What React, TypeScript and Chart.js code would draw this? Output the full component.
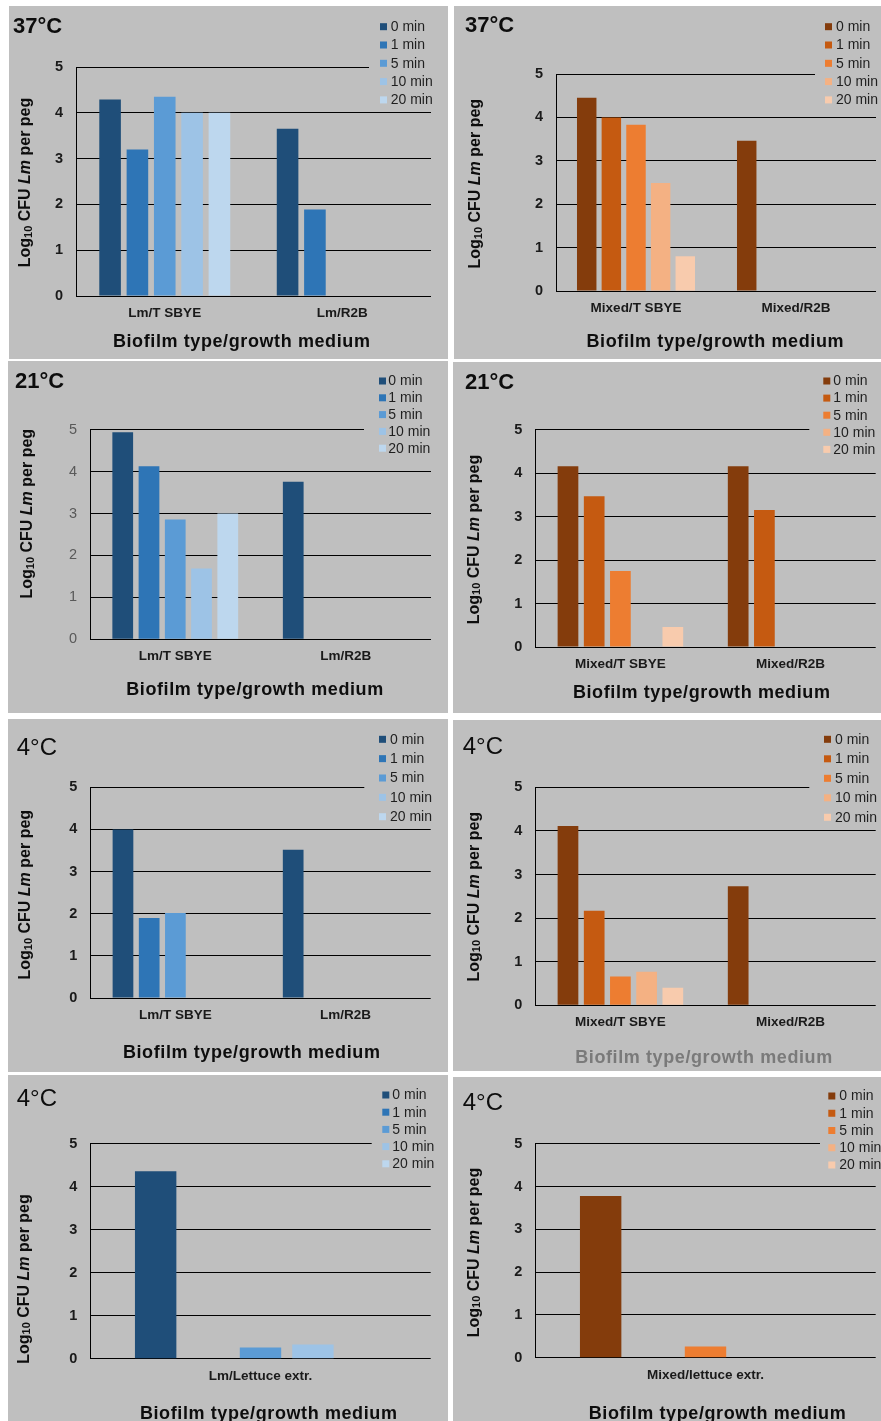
import React, { useEffect, useRef } from 'react';
import { Chart, registerables } from 'chart.js';

Chart.register(...registerables);
Chart.defaults.font.family = '"Liberation Sans", Arial, sans-serif';

// ---------- data ----------
const TIMES = ['0 min', '1 min', '5 min', '10 min', '20 min'];
const BLUES = ['#1f4e79', '#2e75b6', '#5b9bd5', '#9dc3e6', '#bdd7ee'];
const ORANGES = ['#843c0c', '#c55a11', '#ed7d31', '#f4b183', '#f8cbad'];

const LM_CATS = ['Lm/T SBYE', 'Lm/R2B'];
const MIX_CATS = ['Mixed/T SBYE', 'Mixed/R2B'];
const LM_LETTUCE_CATS = ['Lm/Lettuce extr.'];
const MIX_LETTUCE_CATS = ['Mixed/lettuce extr.'];

// rows = 0, 1, 5, 10, 20 min ; columns = categories
const LM_37C = [[4.29, 3.65], [3.2, 1.89], [4.35, null], [4.0, null], [4.0, null]];
const MIX_37C = [[4.45, 3.46], [4.0, null], [3.83, null], [2.49, null], [0.8, null]];
const LM_21C = [[4.94, 3.76], [4.13, null], [2.86, null], [1.69, null], [3.0, null]];
const MIX_21C = [[4.16, 4.16], [3.47, 3.15], [1.75, null], [null, null], [0.46, null]];
const LM_4C = [[4.0, 3.52], [1.9, null], [2.02, null], [null, null], [null, null]];
const MIX_4C = [[4.11, 2.73], [2.17, null], [0.66, null], [0.77, null], [0.4, null]];
const LM_4C_LETTUCE = [[4.36], [null], [0.26], [0.33], [null]];
const MIX_4C_LETTUCE = [[3.78], [null], [0.26], [null], [null]];

const Y_TICKS = [0, 1, 2, 3, 4, 5];
const X_TITLE = 'Biofilm type/growth medium';

const BG = '#bfbfbf';
const FONT = '"Liberation Sans", Arial, sans-serif';

type Panel = {
  box: number[]; area: number[]; cats: string[]; values: (number | null)[][]; colors: string[];
  title: string; titleBold: boolean; titleSize: number; titlePos: number[];
  legend: number[]; // sqX, y0, step, textX
  gridCut: number; xTitlePos: number[]; xTitleColor: string; yTitlePos: number[];
  tickColor: string; tickBold: boolean;
};

const PANELS: Panel[] = [
  { box: [9, 6, 439, 353], area: [76, 67, 431, 296], cats: LM_CATS, values: LM_37C, colors: BLUES,
    title: '37°C', titleBold: true, titleSize: 22, titlePos: [13, 33],
    legend: [380, 26.7, 18.3, 390.7], gridCut: 369, xTitlePos: [241.7, 342], xTitleColor: '#0d0d0d',
    yTitlePos: [25, 182.5], tickColor: '#1a1a1a', tickBold: true },
  { box: [454, 6, 427, 353], area: [556, 74, 876, 291], cats: MIX_CATS, values: MIX_37C, colors: ORANGES,
    title: '37°C', titleBold: true, titleSize: 22, titlePos: [465, 31.7],
    legend: [825, 26.7, 18.3, 836], gridCut: 815, xTitlePos: [715.3, 342.3], xTitleColor: '#0d0d0d',
    yTitlePos: [475, 183.7], tickColor: '#1a1a1a', tickBold: true },
  { box: [8, 361, 440, 352], area: [90, 429.7, 431, 639.3], cats: LM_CATS, values: LM_21C, colors: BLUES,
    title: '21°C', titleBold: true, titleSize: 22, titlePos: [15, 388.3],
    legend: [379, 381, 16.8, 388.3], gridCut: 364, xTitlePos: [255, 690], xTitleColor: '#0d0d0d',
    yTitlePos: [26.7, 513.7], tickColor: '#595959', tickBold: false },
  { box: [453, 362, 428, 351], area: [535.3, 429.7, 875.7, 647], cats: MIX_CATS, values: MIX_21C, colors: ORANGES,
    title: '21°C', titleBold: true, titleSize: 22, titlePos: [465, 389.3],
    legend: [823.3, 381, 17.1, 833.3], gridCut: 809.3, xTitlePos: [701.7, 693.3], xTitleColor: '#0d0d0d',
    yTitlePos: [473.3, 539.5], tickColor: '#1a1a1a', tickBold: true },
  { box: [8, 719, 440, 353], area: [90.3, 787.3, 430.7, 998], cats: LM_CATS, values: LM_4C, colors: BLUES,
    title: '4°C', titleBold: false, titleSize: 24, titlePos: [16.7, 755],
    legend: [379, 739.3, 19.35, 390], gridCut: 364.3, xTitlePos: [251.7, 1053.3], xTitleColor: '#0d0d0d',
    yTitlePos: [25, 894.7], tickColor: '#1a1a1a', tickBold: true },
  { box: [453, 720, 428, 351], area: [535.3, 787.3, 875.7, 1005.3], cats: MIX_CATS, values: MIX_4C, colors: ORANGES,
    title: '4°C', titleBold: false, titleSize: 24, titlePos: [462.7, 754],
    legend: [824, 739.3, 19.5, 835], gridCut: 809.3, xTitlePos: [704, 1058.3], xTitleColor: '#7a7a7a',
    yTitlePos: [473.3, 896.7], tickColor: '#1a1a1a', tickBold: true },
  { box: [8, 1075, 440, 346], area: [90.3, 1143.7, 430.7, 1358.7], cats: LM_LETTUCE_CATS, values: LM_4C_LETTUCE, colors: BLUES,
    title: '4°C', titleBold: false, titleSize: 24, titlePos: [16.7, 1105.7],
    legend: [382.3, 1095, 17.2, 392.3], gridCut: 371.7, xTitlePos: [268.7, 1414], xTitleColor: '#0d0d0d',
    yTitlePos: [23.3, 1279], tickColor: '#1a1a1a', tickBold: true },
  { box: [453, 1077, 428, 344], area: [535.3, 1143.7, 875.7, 1357.7], cats: MIX_LETTUCE_CATS, values: MIX_4C_LETTUCE, colors: ORANGES,
    title: '4°C', titleBold: false, titleSize: 24, titlePos: [462.7, 1110],
    legend: [828.3, 1096, 17.25, 839.3], gridCut: 820, xTitlePos: [717.5, 1414], xTitleColor: '#0d0d0d',
    yTitlePos: [473.3, 1252.5], tickColor: '#1a1a1a', tickBold: true },
];

const overlayPlugin = {
  id: 'overlay',
  afterDraw(chart: any, _args: any, opts: any) {
    const p: Panel = opts.panel;
    if (!p) return;
    const ctx = chart.ctx;
    const ox = p.box[0], oy = p.box[1];
    const ca = chart.chartArea;
    ctx.save();
    // hide top gridline behind legend
    ctx.fillStyle = BG;
    ctx.fillRect(p.gridCut - ox, ca.top - 3, p.box[2] - (p.gridCut - ox), 6);
    // legend
    const [sqX, y0, step, tx] = p.legend;
    ctx.font = `14px ${FONT}`;
    ctx.textBaseline = 'middle';
    ctx.textAlign = 'left';
    TIMES.forEach((t, i) => {
      const cy = y0 + i * step - oy;
      ctx.fillStyle = p.colors[i];
      ctx.fillRect(sqX - ox, cy - 3.5, 7, 7);
      ctx.fillStyle = '#1f1f1f';
      ctx.fillText(t, tx - ox, cy + 0.5);
    });
    // panel title
    ctx.fillStyle = '#0d0d0d';
    ctx.textBaseline = 'alphabetic';
    ctx.font = `${p.titleBold ? 'bold ' : ''}${p.titleSize}px ${FONT}`;
    ctx.fillText(p.title, p.titlePos[0] - ox, p.titlePos[1] - oy);
    // x title
    ctx.fillStyle = p.xTitleColor;
    ctx.font = `bold 18px ${FONT}`;
    ctx.textAlign = 'center';
    ctx.textBaseline = 'middle';
    try { (ctx as any).letterSpacing = '0.6px'; } catch (e) { /* ignore */ }
    ctx.fillText(X_TITLE, p.xTitlePos[0] - ox, p.xTitlePos[1] - oy);
    try { (ctx as any).letterSpacing = '0px'; } catch (e) { /* ignore */ }
    // y title (rotated, mixed fonts)
    const parts = [
      { t: 'Log', f: `bold 16px ${FONT}`, dy: 0 },
      { t: '10', f: `bold 11px ${FONT}`, dy: 3 },
      { t: ' CFU ', f: `bold 16px ${FONT}`, dy: 0 },
      { t: 'Lm', f: `italic bold 16px ${FONT}`, dy: 0 },
      { t: ' per peg', f: `bold 16px ${FONT}`, dy: 0 },
    ];
    let total = 0;
    const widths = parts.map((pt) => { ctx.font = pt.f; const w = ctx.measureText(pt.t).width; total += w; return w; });
    ctx.translate(p.yTitlePos[0] - ox, p.yTitlePos[1] - oy);
    ctx.rotate(-Math.PI / 2);
    ctx.textAlign = 'left';
    ctx.textBaseline = 'middle';
    ctx.fillStyle = '#0d0d0d';
    let x = -total / 2;
    parts.forEach((pt, i) => {
      ctx.font = pt.f;
      ctx.fillText(pt.t, x, pt.dy + 1);
      x += widths[i];
    });
    ctx.restore();
  },
};

function makeConfig(p: Panel): any {
  const [bx, by, bw, bh] = p.box;
  const [l, t, r, b] = p.area;
  return {
    type: 'bar',
    data: {
      labels: p.cats,
      datasets: TIMES.map((name, i) => ({
        label: name,
        data: p.values[i],
        backgroundColor: p.colors[i],
        borderWidth: 0,
        barPercentage: 0.79,
        categoryPercentage: 0.77,
      })),
    },
    options: {
      responsive: false,
      animation: false,
      devicePixelRatio: 1,
      layout: { padding: { top: t - by, right: bx + bw - r, left: 0, bottom: 0 } },
      plugins: { legend: { display: false }, tooltip: { enabled: false }, overlay: { panel: p } },
      scales: {
        x: {
          afterFit: (s: any) => { s.height = by + bh - b; },
          grid: { display: false, drawTicks: false },
          border: { display: false },
          ticks: { padding: 9, maxRotation: 0, autoSkip: false, color: '#1a1a1a', font: { size: 13.5, weight: 'bold' } },
        },
        y: {
          min: 0, max: 5,
          afterFit: (s: any) => { s.width = l - bx; },
          afterBuildTicks: (s: any) => { s.ticks = Y_TICKS.map((v) => ({ value: v })); },
          grid: { color: '#000', lineWidth: 1, drawTicks: false },
          border: { display: true, color: '#000', width: 1 },
          ticks: { padding: 13, color: p.tickColor, font: { size: 14.5, weight: p.tickBold ? 'bold' : 'normal' } },
        },
      },
    },
    plugins: [overlayPlugin],
  };
}

function PanelChart({ p }: { p: Panel }) {
  const ref = useRef<HTMLCanvasElement | null>(null);
  useEffect(() => {
    if (!ref.current) return;
    const chart = new Chart(ref.current, makeConfig(p));
    return () => chart.destroy();
  }, [p]);
  const [x, y, w, h] = p.box;
  return (
    <canvas
      ref={ref}
      width={w}
      height={h}
      style={{ position: 'absolute', left: x, top: y, width: w, height: h, background: BG, display: 'block' }}
    />
  );
}

export default function App() {
  return (
    <div style={{ position: 'absolute', left: 0, top: 0, width: 881, height: 1421, overflow: 'hidden', background: '#fff' }}>
      {PANELS.map((p, i) => <PanelChart key={i} p={p} />)}
    </div>
  );
}
